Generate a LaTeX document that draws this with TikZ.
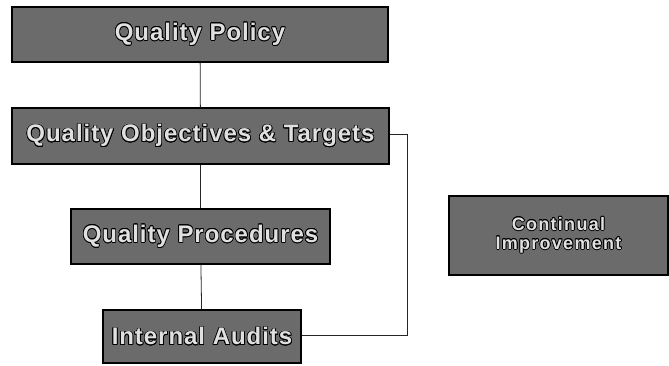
\documentclass[tikz,border=0pt]{standalone}
\usepackage{fontspec}
\setmainfont{Liberation Sans}
\usepackage{contour}
\contourlength{0.7pt}
\usepackage{tikz}
\usetikzlibrary{positioning}
\newcommand{\outl}[1]{\contour{black}{#1}}
\tikzstyle{qbox} = [rectangle, draw=black, line width=1.2pt, fill=black!58, text=black!12, inner sep=0pt, text centered]
\tikzstyle{bigtext} = [font=\fontsize{24}{26}\selectfont\bfseries\addfontfeature{LetterSpace=4}]
\tikzstyle{smalltext} = [font=\fontsize{18}{19}\selectfont\bfseries\addfontfeature{LetterSpace=7}]
\tikzstyle{link} = [line width=0.8pt, black!85]
\tikzset{every node/.style={align=center}}

\begin{document}
\begin{tikzpicture}[x=1pt, y=-1pt]
    \useasboundingbox (0,0) rectangle (669,365);
    \node (pol) at (200,  34.5) [qbox, bigtext, minimum width=376pt, minimum height=55pt] {\outl{Quality Policy}};
    \node (obj) at (200.5,136)  [qbox, bigtext, minimum width=377pt, minimum height=56pt] {\outl{Quality Objectives \& Targets}};
    \node (prc) at (200.5,236.5)[qbox, bigtext, minimum width=259pt, minimum height=55pt] {\outl{Quality Procedures}};
    \node (aud) at (202,  336.5)[qbox, bigtext, minimum width=198pt, minimum height=53pt] {\outl{Internal Audits}};
    \node (ci)  at (558.5,235.5)[qbox, smalltext, minimum width=219pt, minimum height=79pt] {\outl{Continual}\\\outl{Improvement}};

    \draw [link] (pol) -- (obj);
    \draw [link] (obj) -- (prc);
    \draw [link] (prc) -- (aud);
    % loop back from the audits to the objectives
    \draw [link] (obj.east |- 0,134) -- (407,134) |- (aud.east |- 0,335);
\end{tikzpicture}
\end{document}
